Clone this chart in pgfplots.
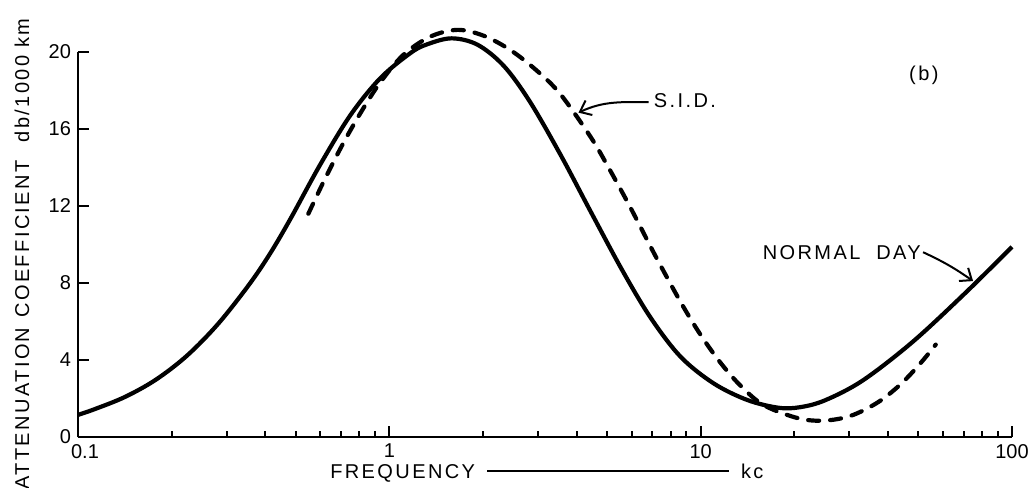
\documentclass[border=0pt]{standalone}
\usepackage{fontspec}
\setmainfont{Liberation Sans}
\newfontfamily\lab{Liberation Sans}[LetterSpace=12]
\usepackage{pgfplots}
\pgfplotsset{compat=1.18}
\usetikzlibrary{arrows.meta}
\begin{document}
\begin{tikzpicture}
\path[use as bounding box] (0,0) rectangle (517.5pt,244pt);
\begin{axis}[
  at={(39pt,25.5pt)}, anchor=south west,
  scale only axis, width=467pt, height=192.5pt,
  xmode=log, xmin=0.1, xmax=100, ymin=0, ymax=20,
  axis x line=bottom, axis y line=left,
  axis line style={-, line width=1pt},
  tick align=inside, major tick length=5.5pt,
  tick style={line width=1pt, black},
  xtick={0.1,1,10,100}, xticklabels={\hspace*{7pt}0.1,1,10,100},
  minor xtick={},
  ytick={0,4,8,12,16,20}, yticklabels={0,4,8,12,16,20},
  ticklabel style={font=\fontsize{10}{12}\selectfont},
  clip=false,
]
% Normal day (solid)
\addplot[black, line width=2.1pt, smooth, tension=0.55] coordinates {
(0.1,1.15) (0.1122,1.425) (0.1413,2.075) (0.1778,2.975) (0.2239,4.225)
(0.2818,5.875) (0.3548,7.925) (0.4140,9.53) (0.4808,11.32) (0.5998,14.15)
(0.7499,16.72) (0.9354,18.64) (1.168,19.94) (1.318,20.39) (1.585,20.71)
(1.919,20.38) (2.328,19.29) (2.818,17.46) (3.548,14.66) (4.467,11.61)
(5.623,8.61) (6.918,6.18) (8.630,4.16) (11.02,2.78) (14.13,1.92)
(17.78,1.52) (20.89,1.55) (25.12,1.91) (33.11,2.93) (47.86,4.93)
(70.79,7.48) (100,9.88)
};
% S.I.D. (dashed)
\addplot[black, line width=2.1pt, smooth, tension=0.55, dash pattern=on 5.5pt off 5.5pt, line cap=round] coordinates {
(0.5495,11.6) (0.6166,13.3) (0.7079,15.2) (0.8128,16.9) (0.9333,18.4)
(1.109,19.85) (1.355,20.8) (1.656,21.15) (2.005,20.85) (2.449,20.1)
(2.992,19.0) (3.548,17.8) (4.426,15.6) (5.058,14.0) (5.957,11.9)
(7.161,9.4) (8.630,7.0) (10,5.3) (11.59,3.85) (13.46,2.65) (15.96,1.65)
(20.51,0.98) (24.83,0.85) (30.34,1.1) (37.07,1.8) (43.95,2.75)
(50.93,3.85) (56.89,4.8)
};
\node[font=\lab\fontsize{10}{12}\selectfont] at (axis cs:8.9,17.5) {S.I.D.};
\draw[-{Straight Barb[length=5pt,width=8pt]}, line width=1pt]
  (axis cs:6.81,17.4) to[out=180,in=25] (axis cs:4.05,16.85);
\node[font=\lab\fontsize{10}{12}\selectfont] at (axis cs:28.4,9.6) {NORMAL\ \ DAY};
\draw[-{Straight Barb[length=5pt,width=8pt]}, line width=1pt]
  (axis cs:51.8,9.6) to[bend left=5] (axis cs:75,8.1);
\node[font=\lab\fontsize{10}{12}\selectfont] at (axis cs:52.1,18.8) {(b)};
\node[font=\lab\fontsize{10}{12}\selectfont, rotate=90, anchor=center]
  at (rel axis cs:-0.060,0.475) {ATTENUATION\hspace{0.5em}COEFFICIENT\hspace{0.9em}db/1000 km};
\node[font=\lab\fontsize{10}{12}\selectfont, anchor=center]
  at (rel axis cs:0.502,-0.094) {FREQUENCY\hspace{6pt}\rule[3.3pt]{121pt}{0.8pt}\hspace{6pt}kc};
\end{axis}
\end{tikzpicture}
\end{document}
